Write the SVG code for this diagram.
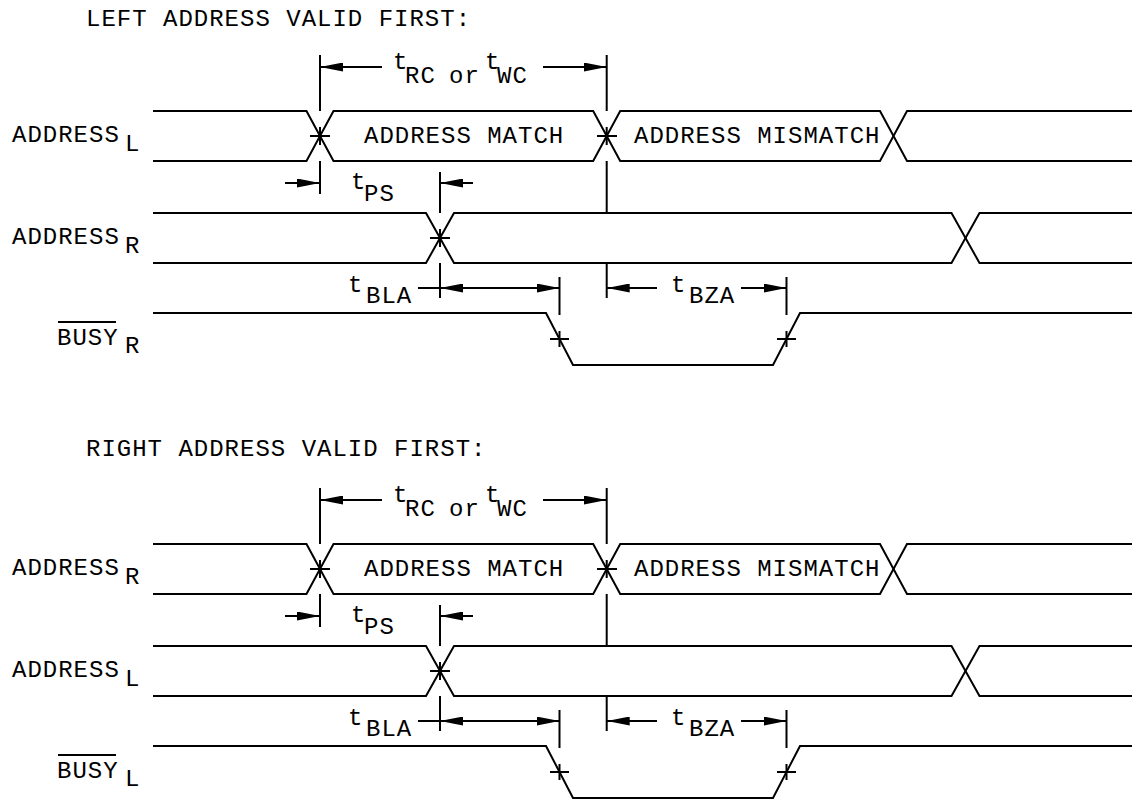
<svg xmlns="http://www.w3.org/2000/svg" width="1132" height="799" viewBox="0 0 1132 799">
<style>
.sig{fill:none;stroke:#000;stroke-width:2}
.dim{fill:none;stroke:#000;stroke-width:2}
.arr{fill:none;stroke:#000;stroke-width:2;marker-end:url(#ah)}
.txt{font-family:"Liberation Mono","DejaVu Sans Mono",monospace;font-size:24px;letter-spacing:1px;fill:#000}
</style>
<defs>
<marker id="ah" viewBox="0 0 23 9" refX="23" refY="4.5" markerWidth="23" markerHeight="9" markerUnits="userSpaceOnUse" orient="auto">
<path d="M0,0 L23,4.5 L0,9 z" fill="#000"/>
</marker>
<g id="section">
  <g id="sig-row1">
    <path class="sig" d="M153,111 H306.5 L333.5,161 H593.2 L620.2,111 H880 L907,161 H1132"/>
    <path class="sig" d="M153,161 H306.5 L333.5,111 H593.2 L620.2,161 H880 L907,111 H1132"/>
    <text class="txt" x="364" y="143">ADDRESS MATCH</text>
    <text class="txt" x="634" y="143">ADDRESS MISMATCH</text>
  </g>
  <g id="sig-row2">
    <path class="sig" d="M153,213 H426 L454,263 H951.5 L979.5,213 H1132"/>
    <path class="sig" d="M153,263 H426 L454,213 H951.5 L979.5,263 H1132"/>
  </g>
  <g id="sig-row3">
    <path class="sig" d="M153,313 H546 L573,365 H773 L800,313 H1132"/>
  </g>
  <g id="connectors">
    <path class="dim" d="M310,136 H330 M320,127 V145 M597,136 H617 M606.7,127 V145 M430,238 H450 M440,229 V247 M550,339 H569 M559.5,331 V347 M777,339 H796 M786.5,331 V347"/>
    <path class="dim" d="M320,55 V111 M320,161 V194 M606.7,55 V111 M606.7,161 V213 M606.7,263 V298 M440,172 V213 M440,263 V298 M559.5,277 V315 M786.5,277 V315"/>
    <line class="arr" x1="382" y1="67" x2="320" y2="67"/>
    <line class="arr" x1="543" y1="67" x2="606.7" y2="67"/>
    <line class="arr" x1="285" y1="183" x2="320" y2="183"/>
    <line class="arr" x1="473" y1="183" x2="440" y2="183"/>
    <line class="dim" x1="418" y1="288" x2="440" y2="288"/>
    <line class="arr" x1="500" y1="288" x2="440" y2="288"/>
    <line class="arr" x1="500" y1="288" x2="559.5" y2="288"/>
    <line class="arr" x1="657" y1="288" x2="606.7" y2="288"/>
    <line class="arr" x1="741" y1="288" x2="786.5" y2="288"/>
  </g>
  <g id="timing-labels">
    <text class="txt" x="393" y="69">t</text><text class="txt" x="405" y="83">RC</text>
    <text class="txt" x="449" y="83">or</text>
    <text class="txt" x="485" y="69">t</text><text class="txt" x="497" y="83">WC</text>
    <text class="txt" x="351" y="189">t</text><text class="txt" x="364" y="201">PS</text>
    <text class="txt" x="348" y="292">t</text><text class="txt" x="366" y="303">BLA</text>
    <text class="txt" x="671" y="292">t</text><text class="txt" x="689" y="303">BZA</text>
  </g>
</g>
</defs>

<g id="left-address-valid-first">
  <text class="txt" x="86" y="26">LEFT ADDRESS VALID FIRST:</text>
  <g id="label-address-l-top">
    <text class="txt" x="12" y="142">ADDRESS</text><text class="txt" x="125" y="151">L</text>
  </g>
  <g id="label-address-r-top">
    <text class="txt" x="12" y="244">ADDRESS</text><text class="txt" x="125" y="253">R</text>
  </g>
  <g id="label-busy-r">
    <text class="txt" x="57" y="345">BUSY</text><line class="dim" x1="58" y1="322" x2="116" y2="322"/>
    <text class="txt" x="125" y="353">R</text>
  </g>
  <use href="#section"/>
</g>

<g id="right-address-valid-first">
  <text class="txt" x="86" y="456">RIGHT ADDRESS VALID FIRST:</text>
  <g id="label-address-r-bottom">
    <text class="txt" x="12" y="575">ADDRESS</text><text class="txt" x="125" y="584">R</text>
  </g>
  <g id="label-address-l-bottom">
    <text class="txt" x="12" y="677">ADDRESS</text><text class="txt" x="125" y="686">L</text>
  </g>
  <g id="label-busy-l">
    <text class="txt" x="57" y="778">BUSY</text><line class="dim" x1="58" y1="755" x2="116" y2="755"/>
    <text class="txt" x="125" y="786">L</text>
  </g>
  <use href="#section" transform="translate(0,433)"/>
</g>
</svg>
